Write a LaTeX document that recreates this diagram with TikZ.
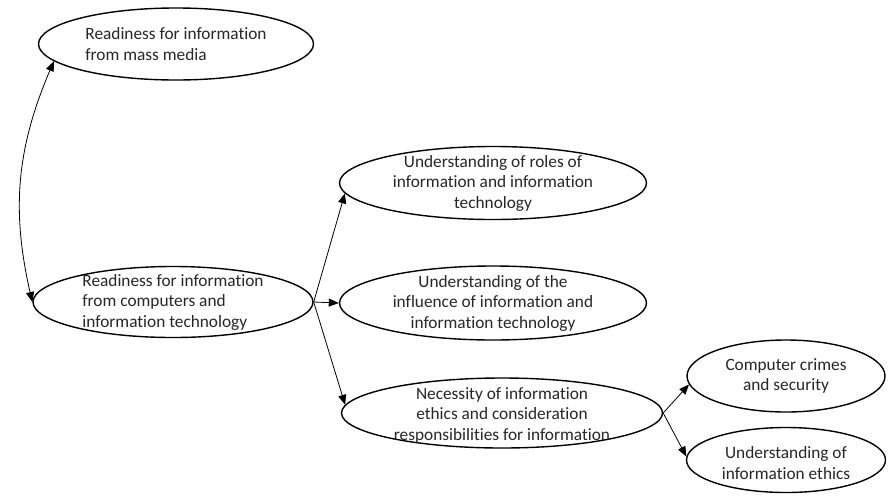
\documentclass[tikz,border=0pt]{standalone}
\usepackage{fontspec}
\setmainfont{Carlito}[Ligatures={NoCommon,NoRare}]
\usetikzlibrary{shapes.geometric}
\usetikzlibrary{arrows.meta}

\begin{document}
\begin{tikzpicture}[x=1pt,y=1pt,->,>={Triangle[length=10pt,width=8pt]},line width=0.8pt,
  oval/.style={ellipse,draw,line width=1.4pt,inner sep=0pt},
  txt/.style={font=\fontsize{17.3}{20.5}\selectfont,text=black!85,inner sep=0pt}]

  \useasboundingbox (0,0) rectangle (888,-496);

  \node[oval,minimum width=275,minimum height=72] (mass) at (176,-44) {};
  \node[oval,minimum width=280,minimum height=71] (comp) at (173,-302) {};
  \node[oval,minimum width=307,minimum height=73] (roles) at (493,-183) {};
  \node[oval,minimum width=307,minimum height=74] (infl) at (493,-303) {};
  \node[oval,minimum width=321,minimum height=70] (ethics) at (502,-413) {};
  \node[oval,minimum width=198,minimum height=72] (crime) at (786,-376) {};
  \node[oval,minimum width=199,minimum height=65] (under) at (786,-460) {};

  \node[txt,align=left] (massT) at (mass) {Readiness for information\\from mass media};
  \node[txt,align=left] (compT) at (comp) {Readiness for information\\from computers and\\information technology};
  \node[txt,align=center] (rolesT) at (roles) {Understanding of roles of\\information and information\\technology};
  \node[txt,align=center] (inflT) at (infl) {Understanding of the\\influence of information and\\information technology};
  \node[txt,align=center,yshift=-2] (ethicsT) at (ethics) {Necessity of information\\ethics and consideration\\responsibilities for information};
  \node[txt,align=center] (crimeT) at (crime) {Computer crimes\\and security};
  \node[txt,align=center,yshift=-3] (underT) at (under) {Understanding of\\information ethics};

  \path
    (mass.188) edge [<->,bend right=18] (comp.west)
    (comp.east) edge (roles.184)
                edge (infl.west)
                edge (ethics.177)
    (ethics.east) edge (crime.185)
                  edge (under.178);
\end{tikzpicture}
\end{document}
